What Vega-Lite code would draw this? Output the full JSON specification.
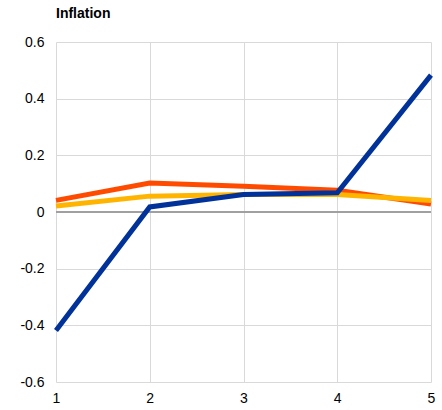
{
  "$schema": "https://vega.github.io/schema/vega-lite/v6.json",
  "width": 375,
  "height": 340,
  "autosize": "none",
  "padding": {"left": 56, "top": 42, "right": 11, "bottom": 28},
  "background": "white",
  "config": {
    "font": "Liberation Sans",
    "view": {"stroke": null}
  },
  "title": {
    "text": "Inflation",
    "anchor": "start",
    "fontSize": 14,
    "fontWeight": "bold",
    "color": "#000000",
    "font": "Liberation Sans",
    "offset": 14,
    "frame": "group"
  },
  "data": {
    "values": [
      {"x": 1, "series": "B", "v": 0.041},
      {"x": 2, "series": "B", "v": 0.102},
      {"x": 3, "series": "B", "v": 0.091},
      {"x": 4, "series": "B", "v": 0.077},
      {"x": 5, "series": "B", "v": 0.028},
      {"x": 1, "series": "C", "v": 0.021},
      {"x": 2, "series": "C", "v": 0.056},
      {"x": 3, "series": "C", "v": 0.062},
      {"x": 4, "series": "C", "v": 0.062},
      {"x": 5, "series": "C", "v": 0.041},
      {"x": 1, "series": "D", "v": -0.418},
      {"x": 2, "series": "D", "v": 0.018},
      {"x": 3, "series": "D", "v": 0.062},
      {"x": 4, "series": "D", "v": 0.068},
      {"x": 5, "series": "D", "v": 0.483}
    ]
  },
  "layer": [
    {
      "mark": {"type": "rule", "color": "#A0A0A0", "strokeWidth": 2},
      "encoding": {"y": {"datum": 0, "type": "quantitative"}}
    },
    {
      "mark": {"type": "line", "strokeWidth": 5, "strokeJoin": "miter", "strokeCap": "butt"},
      "encoding": {
        "x": {
          "field": "x",
          "type": "quantitative",
          "scale": {"domain": [1, 5], "nice": false, "zero": false},
          "axis": {
            "title": null,
            "values": [1, 2, 3, 4, 5],
            "domain": false,
            "ticks": false,
            "grid": true,
            "gridColor": "#D9D9D9",
            "gridWidth": 1,
            "labelFontSize": 14,
            "labelColor": "#000000",
            "labelPadding": 9,
            "labelFlush": false
          }
        },
        "y": {
          "field": "v",
          "type": "quantitative",
          "scale": {"domain": [-0.6, 0.6], "nice": false, "zero": false},
          "axis": {
            "title": null,
            "values": [-0.6, -0.4, -0.2, 0, 0.2, 0.4, 0.6],
            "labelExpr": "'' + datum.value",
            "domain": false,
            "ticks": false,
            "grid": true,
            "gridColor": "#D9D9D9",
            "gridWidth": 1,
            "labelFontSize": 14,
            "labelColor": "#000000",
            "labelPadding": 12
          }
        },
        "color": {
          "field": "series",
          "type": "nominal",
          "scale": {"domain": ["B", "C", "D"], "range": ["#FF4B00", "#FFB400", "#003299"]},
          "legend": null
        },
        "order": {"field": "x"}
      }
    }
  ]
}
